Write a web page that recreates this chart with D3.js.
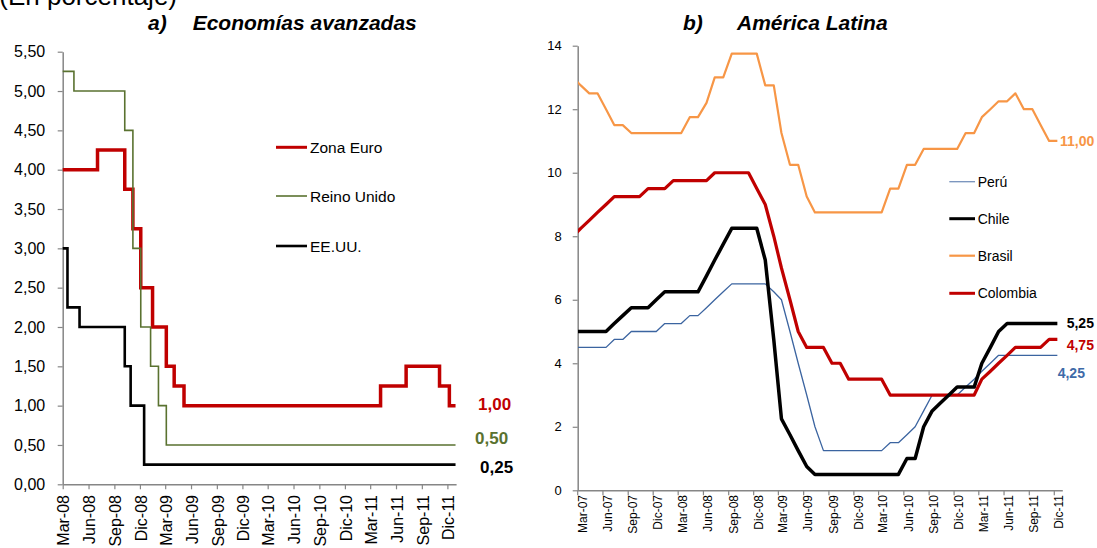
<!DOCTYPE html>
<html><head><meta charset="utf-8">
<script src="https://cdn.jsdelivr.net/npm/d3@7"></script>
<style>
body{margin:0;background:#fff}
svg{display:block}
text{font-family:"Liberation Sans",Arial,sans-serif}
</style>
</head><body>
<svg id="c" width="1097" height="548"></svg>
<script>
// ---------- Panel a) Economías avanzadas : step-change dates and policy rates ----------
const euroDates  = ["2008-03-01","2008-07-03","2008-10-08","2008-11-06","2008-12-04","2009-01-15","2009-03-05","2009-04-02","2009-05-07","2011-04-07","2011-07-07","2011-11-03","2011-12-08"];
const euroValues = [4.00,4.25,3.75,3.25,2.50,2.00,1.50,1.25,1.00,1.25,1.50,1.25,1.00];
const ukDates    = ["2008-03-01","2008-04-10","2008-10-08","2008-11-06","2008-12-04","2009-01-08","2009-02-05","2009-03-05"];
const ukValues   = [5.25,5.00,4.50,3.00,2.00,1.50,1.00,0.50];
const usDates    = ["2008-03-01","2008-03-18","2008-04-30","2008-10-08","2008-10-29","2008-12-16"];
const usValues   = [3.00,2.25,2.00,1.50,1.00,0.25];
const advEndDate = "2011-12-30";
const advXTickLabels = ["Mar-08","Jun-08","Sep-08","Dic-08","Mar-09","Jun-09","Sep-09","Dic-09","Mar-10","Jun-10","Sep-10","Dic-10","Mar-11","Jun-11","Sep-11","Dic-11"];
const advYTicks = [0,0.5,1,1.5,2,2.5,3,3.5,4,4.5,5,5.5];

// ---------- Panel b) América Latina : monthly values Feb-07 .. Dic-11 ----------
const latamStartMonth = "2007-02";
const peruValues = [4.5,
  4.5,4.5,4.5,4.5,4.75,4.75,5.0,5.0,5.0,5.0,5.25,5.25,
  5.25,5.5,5.5,5.75,6.0,6.25,6.5,6.5,6.5,6.5,
  6.5,6.25,6.0,5.0,4.0,3.0,2.0,1.25,1.25,1.25,1.25,1.25,
  1.25,1.25,1.25,1.5,1.5,1.75,2.0,2.5,3.0,3.0,3.0,3.0,
  3.25,3.5,3.75,4.0,4.25,4.25,4.25,4.25,4.25,4.25,4.25,4.25];
const chileValues = [5.0,
  5.0,5.0,5.0,5.0,5.25,5.5,5.75,5.75,5.75,6.0,6.25,6.25,
  6.25,6.25,6.25,6.75,7.25,7.75,8.25,8.25,8.25,8.25,
  7.25,4.75,2.25,1.75,1.25,0.75,0.5,0.5,0.5,0.5,0.5,0.5,
  0.5,0.5,0.5,0.5,0.5,1.0,1.0,2.0,2.5,2.75,3.0,3.25,
  3.25,3.25,4.0,4.5,5.0,5.25,5.25,5.25,5.25,5.25,5.25,5.25];
const brasilValues = [13.0,
  12.75,12.5,12.5,12.0,11.5,11.5,11.25,11.25,11.25,11.25,11.25,11.25,
  11.25,11.75,11.75,12.2,13.0,13.0,13.75,13.75,13.75,13.75,
  12.75,12.75,11.25,10.25,10.25,9.25,8.75,8.75,8.75,8.75,8.75,8.75,
  8.75,8.75,8.75,9.5,9.5,10.25,10.25,10.75,10.75,10.75,10.75,10.75,
  11.25,11.25,11.75,12.0,12.25,12.25,12.5,12.0,12.0,11.5,11.0,11.0];
const colombiaValues = [8.0,
  8.25,8.5,8.75,9.0,9.25,9.25,9.25,9.25,9.5,9.5,9.5,9.75,
  9.75,9.75,9.75,9.75,10.0,10.0,10.0,10.0,10.0,9.5,
  9.0,8.0,7.0,6.0,5.0,4.5,4.5,4.5,4.0,4.0,3.5,3.5,
  3.5,3.5,3.5,3.0,3.0,3.0,3.0,3.0,3.0,3.0,3.0,3.0,
  3.0,3.0,3.5,3.75,4.0,4.25,4.5,4.5,4.5,4.5,4.75,4.75];
const latamXTickLabels = ["Mar-07","Jun-07","Sep-07","Dic-07","Mar-08","Jun-08","Sep-08","Dic-08","Mar-09","Jun-09","Sep-09","Dic-09","Mar-10","Jun-10","Sep-10","Dic-10","Mar-11","Jun-11","Sep-11","Dic-11"];
const latamYTicks = [0,2,4,6,8,10,12,14];

const svg = d3.select("#c");
const parse = d3.timeParse("%Y-%m-%d");
const axisColor = "#868686";
const comma2 = v => d3.format(".2f")(v).replace(".", ",");

// ================= Panel a =================
const xL = d3.scaleTime().domain([new Date(2008,2,1), new Date(2012,0,1)]).range([62.7, 456.1]);
const yL = d3.scaleLinear().domain([0, 5.5]).range([484.3, 51.7]);

function stepData(dates, values){
  const pts = dates.map((d,i)=>({d:parse(d), v:values[i]}));
  pts.push({d:parse(advEndDate), v:values[values.length-1]});
  return pts;
}
const stepLine = d3.line().x(p=>xL(p.d)).y(p=>yL(p.v)).curve(d3.curveStepAfter);

const gA = svg.append("g");
const yAxisL = d3.axisLeft(yL).tickValues(advYTicks).tickSize(5).tickSizeOuter(0).tickPadding(12.5).tickFormat(comma2);
const gyL = gA.append("g").attr("transform","translate(62.7,0)").call(yAxisL);
gyL.select(".domain").attr("stroke",axisColor).attr("stroke-width",1.5);
gyL.selectAll(".tick line").attr("stroke",axisColor).attr("stroke-width",1.2);
gyL.selectAll(".tick text").attr("font-size",16).attr("font-family","Liberation Sans, Arial, sans-serif").attr("fill","#000");

const xTicksL = advXTickLabels.map((_,i)=>d3.timeMonth.offset(new Date(2008,2,1), 3*i));
const xAxisL = d3.axisBottom(xL).tickValues(xTicksL).tickSize(5).tickSizeOuter(0).tickFormat("");
const gxL = gA.append("g").attr("transform","translate(0,484.3)").call(xAxisL);
gxL.select(".domain").attr("stroke",axisColor).attr("stroke-width",1.5);
gxL.selectAll(".tick line").attr("stroke",axisColor).attr("stroke-width",1.2);
gA.append("g").selectAll("text").data(advXTickLabels).join("text")
  .attr("transform",(t,i)=>`translate(${xL(xTicksL[i])+1},495) rotate(-90)`)
  .attr("text-anchor","end").attr("dy","0.36em").attr("font-size",16).attr("fill","#000").text(t=>t);

const advSeries = [
  {name:"Zona Euro", dates:euroDates, values:euroValues, color:"#c00000", w:3.5},
  {name:"Reino Unido", dates:ukDates, values:ukValues, color:"#5a7230", w:1.6},
  {name:"EE.UU.", dates:usDates, values:usValues, color:"#000000", w:2.6}
];
gA.append("g").selectAll("path").data(advSeries).join("path")
  .attr("d", s=>stepLine(stepData(s.dates,s.values)))
  .attr("fill","none").attr("stroke",s=>s.color).attr("stroke-width",s=>s.w)
  .attr("stroke-linejoin","miter").attr("stroke-linecap","butt");

const legA = gA.append("g");
const legAY = [147.3, 196, 246];
advSeries.forEach((s,i)=>{
  legA.append("line").attr("x1",276).attr("x2",307).attr("y1",legAY[i]).attr("y2",legAY[i])
    .attr("stroke",s.color).attr("stroke-width",Math.min(s.w,3));
  legA.append("text").attr("x",310).attr("y",legAY[i]).attr("dy","0.36em").attr("font-size",15.5).attr("fill","#000").text(s.name);
});
const endA = [
  {t:comma2(euroValues[euroValues.length-1]), x:478, y:404, c:"#c00000"},
  {t:comma2(ukValues[ukValues.length-1]), x:475, y:438.3, c:"#5a7230"},
  {t:comma2(usValues[usValues.length-1]), x:480, y:467, c:"#000"}
];
gA.append("g").selectAll("text").data(endA).join("text")
  .attr("x",d=>d.x).attr("y",d=>d.y).attr("dy","0.36em").attr("font-size",17).attr("font-weight","bold")
  .attr("fill",d=>d.c).text(d=>d.t);

// titles
svg.append("text").attr("x",177).attr("y",5).attr("text-anchor","end").attr("font-size",26).attr("fill","#000").text("(En porcentaje)");
svg.append("text").attr("x",148).attr("y",30).attr("font-size",21).attr("font-weight","bold").attr("font-style","italic").text("a)");
svg.append("text").attr("x",192.7).attr("y",30).attr("font-size",21).attr("font-weight","bold").attr("font-style","italic").text("Economías avanzadas");
svg.append("text").attr("x",683).attr("y",30).attr("font-size",21).attr("font-weight","bold").attr("font-style","italic").text("b)");
svg.append("text").attr("x",737).attr("y",30).attr("font-size",21).attr("font-weight","bold").attr("font-style","italic").text("América Latina");

// ================= Panel b =================
const xR = d3.scaleTime().domain([new Date(2007,2,1), new Date(2012,0,1)]).range([577.2, 1062.3]);
const yR = d3.scaleLinear().domain([0, 14]).range([490.3, 45.7]);
const start = d3.timeParse("%Y-%m")(latamStartMonth);
const monthDate = i => d3.timeDay.offset(d3.timeMonth.offset(start, i), 13);

const gB = svg.append("g");
const yAxisR = d3.axisLeft(yR).tickValues(latamYTicks).tickSize(5).tickSizeOuter(0).tickPadding(11).tickFormat(d3.format("d"));
const gyR = gB.append("g").attr("transform","translate(577.7,0)").call(yAxisR);
gyR.select(".domain").attr("stroke",axisColor).attr("stroke-width",1.5);
gyR.selectAll(".tick line").attr("stroke",axisColor).attr("stroke-width",1.2);
gyR.selectAll(".tick text").attr("font-size",13).attr("font-family","Liberation Sans, Arial, sans-serif").attr("fill","#000");

const xTicksR = latamXTickLabels.map((_,i)=>d3.timeMonth.offset(new Date(2007,2,1), 3*i));
const xAxisR = d3.axisBottom(xR).tickValues(xTicksR).tickSize(5).tickSizeOuter(0).tickFormat("");
const gxR = gB.append("g").attr("transform","translate(0,490.3)").call(xAxisR);
gxR.select(".domain").attr("stroke",axisColor).attr("stroke-width",1.5);
gxR.selectAll(".tick line").attr("stroke",axisColor).attr("stroke-width",1.2);
gB.append("g").selectAll("text").data(latamXTickLabels).join("text")
  .attr("transform",(t,i)=>`translate(${xR(xTicksR[i])+5},495) rotate(-90)`)
  .attr("text-anchor","end").attr("dy","0.36em").attr("font-size",12).attr("fill","#000").text(t=>t);

svg.append("defs").append("clipPath").attr("id","clipR").append("rect")
  .attr("x",578).attr("y",0).attr("width",520).attr("height",548);

const latamSeries = [
  {name:"Perú", values:peruValues, color:"#3b64a0", w:1.3},
  {name:"Chile", values:chileValues, color:"#000000", w:3.5},
  {name:"Brasil", values:brasilValues, color:"#f79646", w:2.2},
  {name:"Colombia", values:colombiaValues, color:"#c00000", w:3.2}
];
const drawOrder = [0,3,2,1];
const lineR = d3.line().x((v,i)=>xR(monthDate(i))).y(v=>yR(v));
gB.append("g").attr("clip-path","url(#clipR)").selectAll("path").data(drawOrder.map(i=>latamSeries[i])).join("path")
  .attr("d", s=>lineR(s.values)).attr("fill","none").attr("stroke",s=>s.color).attr("stroke-width",s=>s.w)
  .attr("stroke-linejoin","round");

const legBY = [181.7, 218.7, 255.7, 293.3];
latamSeries.forEach((s,i)=>{
  gB.append("line").attr("x1",949.3).attr("x2",975).attr("y1",legBY[i]).attr("y2",legBY[i])
    .attr("stroke",s.color).attr("stroke-width",Math.min(s.w,3)).attr("opacity", i===0?0.7:1);
  gB.append("text").attr("x",977.7).attr("y",legBY[i]).attr("dy","0.36em").attr("font-size",14).attr("fill","#000").text(s.name);
});
const endB = [
  {t:comma2(brasilValues[brasilValues.length-1]), x:1060, y:141.3, c:"#f79646"},
  {t:comma2(chileValues[chileValues.length-1]), x:1066.7, y:322.7, c:"#000"},
  {t:comma2(colombiaValues[colombiaValues.length-1]), x:1066.7, y:345.3, c:"#c00000"},
  {t:comma2(peruValues[peruValues.length-1]), x:1057.7, y:373.3, c:"#3e6aa8"}
];
gB.append("g").selectAll("text").data(endB).join("text")
  .attr("x",d=>d.x).attr("y",d=>d.y).attr("dy","0.36em").attr("font-size",14).attr("font-weight","bold")
  .attr("fill",d=>d.c).text(d=>d.t);
</script>
</body></html>
